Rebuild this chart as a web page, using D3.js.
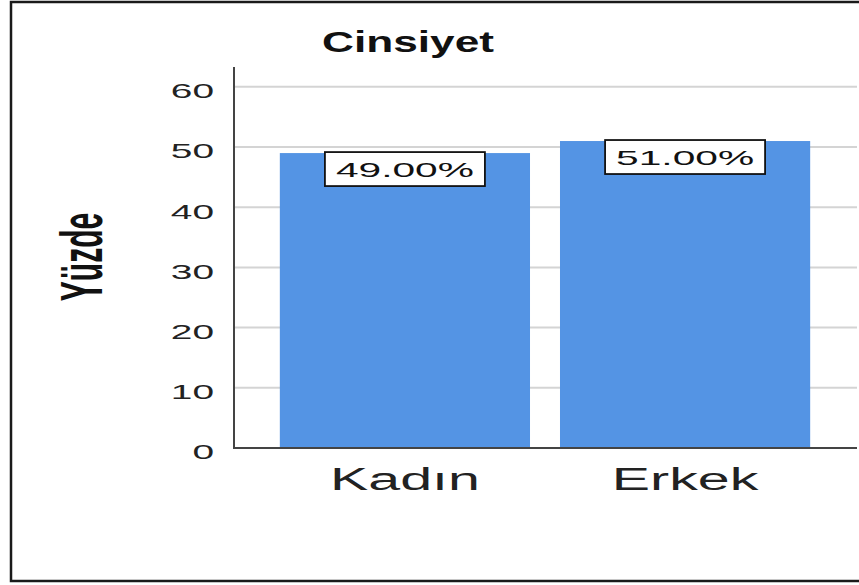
<!DOCTYPE html>
<html>
<head>
<meta charset="utf-8">
<script src="https://cdn.jsdelivr.net/npm/d3@7"></script>
<style>
  body { margin: 0; background: #fff; }
  svg { display: block; font-family: "Liberation Sans", Arial, sans-serif; }
</style>
</head>
<body>
<svg width="859" height="585"></svg>
<script>
// data
const categories = ['Kadın', 'Erkek'];
const percents = [49, 51];
const yTicks = [0, 10, 20, 30, 40, 50, 60];
const title = 'Cinsiyet';
const yLabel = 'Yüzde';

const width = 859, height = 585;
const stretch = 1.85; // the source picture is stretched sideways

const svg = d3.select('svg');

// outer frame (right edge runs off the picture)
svg.append('rect')
  .attr('x', 11).attr('y', 2)
  .attr('width', 870).attr('height', 579)
  .attr('fill', '#fff')
  .attr('stroke', '#1a1a1a')
  .attr('stroke-width', 2.5);

const x = d3.scaleBand()
  .domain(categories)
  .range([235, 855])
  .paddingInner(0.107)
  .paddingOuter(0.16);

const y = d3.scaleLinear()
  .domain([0, 63.3])
  .range([448, 67]);

// gridlines
svg.append('g')
  .selectAll('line')
  .data(yTicks.filter(d => d > 0))
  .enter()
  .append('line')
  .attr('x1', 235).attr('x2', 857)
  .attr('y1', d => y(d)).attr('y2', d => y(d))
  .attr('stroke', '#d4d4d4')
  .attr('stroke-width', 2);

// bars
svg.append('g')
  .selectAll('rect')
  .data(percents)
  .enter()
  .append('rect')
  .attr('x', (d, i) => x(categories[i]))
  .attr('width', x.bandwidth())
  .attr('y', d => y(d))
  .attr('height', d => y(0) - y(d))
  .attr('fill', '#5494e4');

// y axis
const yAxis = svg.append('g')
  .attr('transform', 'translate(234,0)')
  .call(d3.axisLeft(y).tickValues(yTicks).tickSize(0).tickPadding(20));
yAxis.select('.domain').remove();
yAxis.selectAll('text')
  .attr('font-size', 21)
  .attr('fill', '#222')
  .attr('dy', '0.52em')
  .attr('font-family', '"Liberation Sans", Arial, sans-serif')
  .each(function () {
    const w = this.getComputedTextLength();
    d3.select(this).attr('textLength', w * stretch).attr('lengthAdjust', 'spacingAndGlyphs');
  });

svg.append('line')
  .attr('x1', 234).attr('x2', 234)
  .attr('y1', y.range()[1]).attr('y2', y(0) + 1)
  .attr('stroke', '#444')
  .attr('stroke-width', 2);

// x axis
const xAxis = svg.append('g')
  .attr('transform', `translate(0,${y(0)})`)
  .call(d3.axisBottom(x).tickSize(0));
xAxis.select('.domain').remove();
xAxis.selectAll('text')
  .attr('font-size', 31)
  .attr('fill', '#222')
  .attr('y', 42)
  .attr('dy', 0)
  .attr('font-family', '"Liberation Sans", Arial, sans-serif')
  .each(function () {
    const w = this.getComputedTextLength();
    d3.select(this).attr('textLength', w * stretch).attr('lengthAdjust', 'spacingAndGlyphs');
  });

svg.append('line')
  .attr('x1', 234).attr('x2', 857)
  .attr('y1', y(0)).attr('y2', y(0))
  .attr('stroke', '#444')
  .attr('stroke-width', 2);

// value labels in boxes
const labels = svg.append('g')
  .selectAll('g')
  .data(percents)
  .enter()
  .append('g')
  .attr('transform', (d, i) => `translate(${x(categories[i]) + x.bandwidth() / 2},${y(d) - 1})`);

labels.append('rect')
  .attr('x', -80).attr('y', 0)
  .attr('width', 160).attr('height', 34)
  .attr('fill', '#fff')
  .attr('stroke', '#111')
  .attr('stroke-width', 1.8);

labels.append('text')
  .attr('text-anchor', 'middle')
  .attr('y', 25)
  .attr('font-size', 21)
  .attr('fill', '#111')
  .attr('textLength', 138)
  .attr('lengthAdjust', 'spacingAndGlyphs')
  .text(d => d3.format('.2f')(d) + '%');

// title
svg.append('text')
  .attr('x', 408).attr('y', 52)
  .attr('text-anchor', 'middle')
  .attr('font-size', 29)
  .attr('font-weight', 'bold')
  .attr('fill', '#111')
  .attr('textLength', 172)
  .attr('lengthAdjust', 'spacingAndGlyphs')
  .text(title);

// y label, stretched sideways like the source
svg.append('text')
  .attr('transform', 'translate(102,257) scale(2,1) rotate(-90)')
  .attr('text-anchor', 'middle')
  .attr('font-size', 30)
  .attr('font-weight', 'bold')
  .attr('fill', '#111')
  .text(yLabel);
</script>
</body>
</html>
